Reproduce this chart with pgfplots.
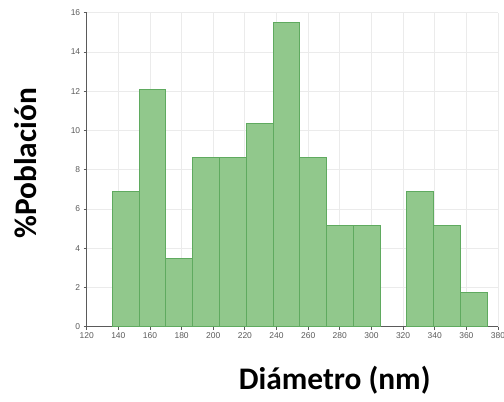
\documentclass[border=0pt]{standalone}
\usepackage{fontspec}
\setmainfont{Liberation Sans}
\newfontfamily\labelfont{Carlito}
\usepackage{pgfplots}
\pgfplotsset{compat=1.18}
\definecolor{barfill}{RGB}{145,200,140}
\definecolor{baredge}{RGB}{95,170,95}
\definecolor{gridc}{RGB}{235,235,235}
\definecolor{axc}{RGB}{90,90,90}
\definecolor{tickc}{RGB}{90,90,90}
\begin{document}
\begin{tikzpicture}
\path[use as bounding box] (0,0) rectangle (504bp,402bp);
\begin{axis}[
  at={(86.7bp,75.3bp)}, anchor=south west,
  scale only axis, width=411.3bp, height=314bp,
  xmin=120, xmax=380, ymin=0, ymax=16,
  xtick={120,140,...,380}, ytick={0,2,...,16},
  axis lines=left, axis line style={-, axc, line width=1.2bp},
  grid=major, major grid style={gridc, line width=0.8bp},
  tick align=outside, major tick length=3bp,
  tick style={axc, line width=0.8bp},
  tick label style={font=\fontsize{8.5}{9}\selectfont, text=tickc},
  /pgf/number format/assume math mode=true,
  xticklabel style={yshift=1bp},
  clip=false,
  xlabel={Diámetro (nm)}, ylabel={\%Población},
  xlabel style={at={(axis description cs:0.603,-0.172)}, anchor=center, font=\labelfont\bfseries\fontsize{31.5}{36}\selectfont},
  ylabel style={at={(axis description cs:-0.148,0.52)}, anchor=center, rotate=0, font=\labelfont\bfseries\fontsize{31.5}{36}\selectfont},
]
\addplot[ybar interval, fill=barfill, draw=baredge, line width=1bp] coordinates {
 (136.2,6.90) (153.1,12.07) (170.1,3.45) (187.0,8.62) (203.9,8.62)
 (220.9,10.34) (237.8,15.52) (254.7,8.62) (271.6,5.17) (288.6,5.17) (305.5,5.17)
};
\addplot[ybar interval, fill=barfill, draw=baredge, line width=1bp] coordinates {
 (322.4,6.90) (339.3,5.17) (356.3,1.72) (373.2,1.72)
};
\end{axis}
\end{tikzpicture}
\end{document}
